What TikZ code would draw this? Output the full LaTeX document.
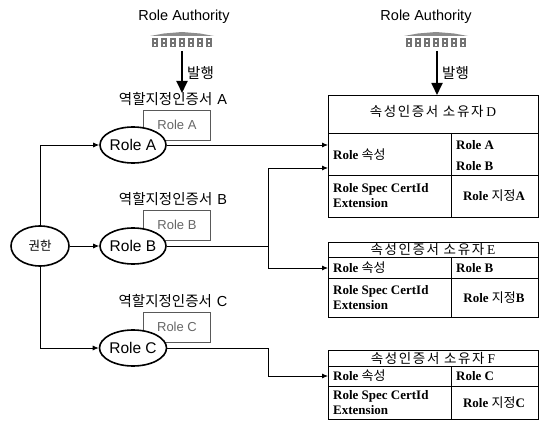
\documentclass[tikz,border=0pt]{standalone}
\usepackage{fontspec}
\setmainfont{Liberation Serif}
\newfontfamily\sansf{Liberation Sans}
\newfontfamily\krf{Noto Sans CJK KR}
\newfontfamily\krwide[LetterSpace=12]{Noto Sans CJK KR}
\usetikzlibrary{shapes.geometric,arrows.meta}
\begin{document}
\begin{tikzpicture}[x=1pt,y=-1pt,
  lab/.style={font=\krf\fontsize{14.5}{16}\selectfont, inner sep=0},
  ralab/.style={font=\sansf\fontsize{14.5}{16}\selectfont, inner sep=0},
  ell/.style={ellipse, draw, line width=1.6pt, fill=white, minimum width=66pt, minimum height=36pt, inner sep=0, font=\sansf\fontsize{15.5}{17}\selectfont},
  rolebox/.style={draw=black!65, line width=0.6pt, fill=white, minimum width=67pt, minimum height=30pt, inner sep=0, text=black!60, font=\sansf\fontsize{13}{15}\selectfont},
  conn/.style={line width=0.8pt, -{Latex[length=6pt,width=5pt]}},
  plain/.style={line width=0.8pt},
  issue/.style={line width=1.8pt, -{Triangle[length=12pt,width=11pt]}},
  tbl/.style={draw, line width=1.4pt, inner sep=0, anchor=north west, minimum width=210pt},
  grid/.style={line width=0.8pt},
  cell/.style={font=\bfseries\fontsize{13}{15}\selectfont, inner sep=0, anchor=west, align=left},
  ccell/.style={font=\bfseries\fontsize{13}{15}\selectfont, inner sep=0, align=center},
  head/.style={font=\fontsize{13.5}{15}\selectfont, inner sep=0},
  authicon/.pic={
    \fill[black!45] (-2,4) -- (12,1.5) -- (30,0) -- (48,1.5) -- (62,4) -- cycle;
    \foreach \i in {0,...,6}{
      \fill[black!55] (\i*9,6) rectangle ++(6,9);
      \fill[white] (\i*9+2,8) rectangle ++(2,2);
      \fill[white] (\i*9+2,12) rectangle ++(2,2);
    }
  }
]
\useasboundingbox (0,0) rectangle (543,422);

% ---------- left authority ----------
\node[ralab] (ra1) at (184,17) {Role Authority};
\pic at (152,32) {authicon};
\coordinate (ia1) at (182,51);
\coordinate (ib1) at (182,93);
\draw[issue] (ia1) -- (ib1);
\node[lab, anchor=west] (iss1) at (187,73) {발행};

% ---------- right authority ----------
\node[ralab] (ra2) at (426,17) {Role Authority};
\pic at (406,32) {authicon};
\coordinate (ia2) at (437,51);

% ---------- certificate labels and role boxes ----------
\node[lab] (lA) at (173,99) {역할지정인증서\hspace{5pt}{\sansf A}};
\node[lab] (lB) at (173,199) {역할지정인증서\hspace{5pt}{\sansf B}};
\node[lab] (lC) at (173,301) {역할지정인증서\hspace{5pt}{\sansf C}};

\node[rolebox] (bA) at (177,125) {Role A};
\node[rolebox] (bB) at (177,225) {Role B};
\node[rolebox] (bC) at (177,327) {Role C};

\node[ell] (RA) at (133,145) {Role A};
\node[ell] (RB) at (133,246) {Role B};
\node[ell] (RC) at (133,348) {Role C};

\node[ellipse, draw, line width=1.6pt, fill=white, minimum width=58pt, minimum height=40pt, inner sep=0, font=\krf\fontsize{12.5}{14}\selectfont] (K) at (40,246) {권한};

\draw[conn] (K.north) |- (RA.west);
\draw[conn] (K.east) -- (RB.west);
\draw[conn] (K.south) |- (RC.west);

% ---------- table D ----------
\node[tbl, minimum height=122pt] (D) at (328,95) {};
\draw[issue] (ia2) -- (D.north -| ia2);
\node[lab, anchor=west] (iss2) at (442,73) {발행};
\draw[grid] (328,133) -- (538,133);
\draw[grid] (328,175) -- (538,175);
\draw[grid] (451,133) -- (451,217);
\node[head] (Dh) at (433,111) {{\krwide 속성인증서 소유자}\hspace{3pt}D};
\node[cell] (Da) at (333,155) {Role {\mdseries\krf 속성}};
\node[cell] (Db1) at (456,145) {Role A};
\node[cell] (Db2) at (456,166) {Role B};
\node[cell] (Dc) at (333,196) {Role Spec CertId\\Extension};
\node[ccell] (Dd) at (494,196) {Role {\mdseries\krf 지정}A};

% ---------- table E ----------
\node[tbl, minimum height=75pt] (E) at (328,242) {};
\draw[grid] (328,257) -- (538,257);
\draw[grid] (328,278) -- (538,278);
\draw[grid] (451,257) -- (451,317);
\node[head] (Eh) at (433,249.5) {{\krwide 속성인증서 소유자}\hspace{3pt}E};
\node[cell] (Ea) at (333,268) {Role {\mdseries\krf 속성}};
\node[cell] (Eb) at (456,268) {Role B};
\node[cell] (Ec) at (333,298) {Role Spec CertId\\Extension};
\node[ccell] (Ed) at (494,298) {Role {\mdseries\krf 지정}B};

% ---------- table F ----------
\node[tbl, minimum height=69pt] (F) at (328,350) {};
\draw[grid] (328,366) -- (538,366);
\draw[grid] (328,386) -- (538,386);
\draw[grid] (451,366) -- (451,419);
\node[head] (Fh) at (433,358) {{\krwide 속성인증서 소유자}\hspace{3pt}F};
\node[cell] (Fa) at (333,376) {Role {\mdseries\krf 속성}};
\node[cell] (Fb) at (456,376) {Role C};
\node[cell] (Fc) at (333,403) {Role Spec CertId\\Extension};
\node[ccell] (Fd) at (494,403) {Role {\mdseries\krf 지정}C};

% ---------- connectors to holders ----------
\coordinate (jB) at (268,246);
\coordinate (jC) at (268,348);
\draw[conn] (RA.east) -- (RA.east -| D.west);
\draw[plain] (RB.east) -- (jB);
\draw[conn] (jB) |- (D.west |- 0,168);
\draw[conn] (jB) |- (Ea.west -| E.west);
\draw[plain] (RC.east) -- (jC);
\draw[conn] (jC) |- (Fa.west -| F.west);
\end{tikzpicture}
\end{document}
